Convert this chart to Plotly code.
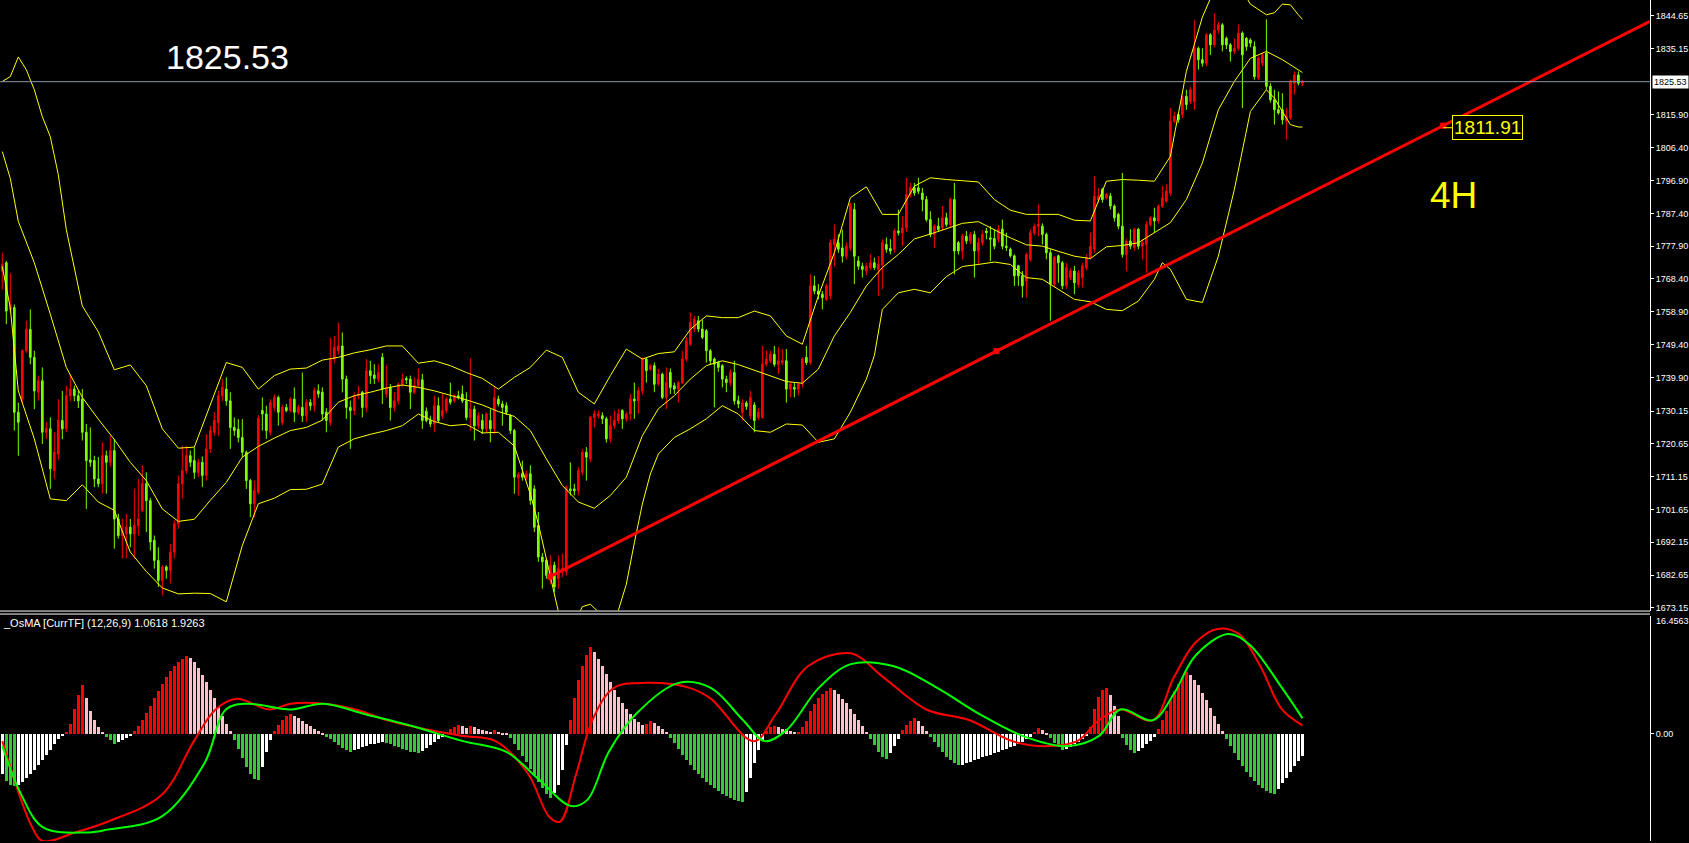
import plotly.graph_objects as go

# ---------------- price data (4H candles, bar index 0..325) ----------------
opens = [
 1770.7,1773.1,1759.5,1760.1,1729.8,1733.6,1747.6,1753.8,1745.7,1735.6,
 1738.9,1724.0,1725.0,1712.9,1717.7,1727.4,1725.0,1734.6,1736.5,1734.6,
 1733.6,1724.0,1716.0,1715.8,1710.5,1709.1,1717.2,1715.3,1718.7,1698.9,
 1694.1,1694.6,1696.5,1694.6,1697.0,1701.4,1709.1,1704.2,1692.7,1686.9,
 1681.1,1685.0,1684.0,1689.3,1697.5,1709.1,1712.9,1717.2,1715.8,1712.4,
 1715.3,1711.5,1719.2,1724.0,1726.9,1734.6,1736.5,1733.1,1725.4,1724.9,
 1722.5,1718.2,1710.0,1703.3,1706.7,1730.3,1729.3,1724.0,1731.2,1734.1,
 1726.9,1731.2,1730.3,1733.6,1729.8,1731.2,1728.8,1732.6,1731.7,1736.0,
 1735.6,1729.8,1726.9,1745.2,1747.6,1749.0,1739.4,1731.2,1730.3,1734.6,
 1735.6,1731.2,1741.8,1740.6,1739.4,1745.7,1735.1,1737.0,1731.2,1733.1,
 1737.9,1739.6,1739.4,1735.6,1737.5,1739.2,1730.1,1727.4,1726.4,1731.7,
 1728.8,1730.3,1733.6,1733.1,1734.6,1735.1,1733.1,1728.3,1730.7,1725.9,
 1727.4,1725.0,1727.4,1725.0,1733.6,1732.2,1731.7,1728.8,1724.5,1710.8,
 1712.0,1711.0,1712.0,1707.6,1697.0,1687.9,1686.9,1681.2,1685.5,1681.6,
 1683.6,1683.6,1707.6,1707.6,1707.1,1712.4,1718.2,1716.3,1728.3,1728.8,
 1728.8,1727.9,1722.1,1725.9,1727.4,1730.3,1727.9,1729.3,1733.6,1733.1,
 1736.0,1745.2,1742.3,1743.3,1738.0,1740.8,1734.1,1741.3,1737.5,1736.5,
 1738.4,1745.2,1749.5,1753.9,1756.3,1753.9,1753.4,1747.6,1745.2,1744.2,
 1743.3,1739.4,1738.4,1741.3,1733.1,1729.8,1732.5,1728.8,1731.9,1728.3,
 1728.3,1743.7,1744.7,1746.6,1743.7,1744.2,1744.7,1736.5,1737.0,1736.5,
 1738.0,1745.7,1744.2,1766.4,1764.9,1764.0,1762.5,1763.5,1778.4,1778.9,
 1777.4,1775.0,1777.4,1788.5,1773.6,1772.1,1770.7,1771.7,1773.1,1771.2,
 1772.6,1778.4,1777.2,1777.0,1782.3,1781.8,1783.2,1792.9,1794.8,1794.8,
 1793.3,1791.4,1785.6,1781.3,1783.7,1783.2,1786.1,1784.2,1791.4,1778.9,
 1776.5,1780.8,1779.4,1781.3,1776.5,1778.9,1782.3,1780.3,1780.1,1779.9,
 1782.8,1777.9,1777.0,1775.1,1772.2,1769.3,1767.8,1774.1,1781.8,1783.7,
 1783.7,1781.3,1776.0,1766.9,1775.1,1773.1,1766.4,1768.8,1770.7,1766.9,
 1768.8,1771.7,1774.6,1777.0,1791.4,1794.3,1791.9,1792.4,1789.5,1787.1,
 1783.7,1775.5,1779.4,1777.5,1782.8,1777.9,1778.4,1784.2,1786.1,1785.2,
 1789.5,1790.9,1793.3,1814.1,1816.0,1816.0,1821.3,1819.8,1819.8,1835.2,
 1831.9,1830.9,1839.1,1836.2,1840.5,1842.0,1838.1,1836.2,1834.3,1835.2,
 1839.6,1838.1,1837.6,1835.7,1826.6,1830.9,1833.8,1824.2,1820.3,1817.4,
 1817.4,1814.1,1815.0,1825.1,1827.5,1825.1]
highs = [
 1776.0,1773.6,1770.0,1761.0,1732.6,1748.0,1756.3,1759.6,1747.6,1740.4,
 1742.8,1726.9,1728.3,1724.0,1733.6,1736.0,1737.5,1740.8,1737.5,1736.0,
 1736.5,1726.4,1725.4,1717.2,1716.8,1721.1,1718.7,1723.0,1722.1,1700.4,
 1698.9,1700.4,1698.9,1707.6,1710.5,1714.4,1712.4,1705.0,1694.1,1690.7,
 1685.5,1685.5,1691.7,1698.5,1711.5,1720.1,1720.1,1718.7,1719.6,1716.3,
 1717.0,1723.5,1725.9,1729.8,1736.0,1739.4,1739.9,1735.6,1728.3,1727.8,
 1727.8,1718.7,1710.5,1710.0,1729.0,1734.1,1731.7,1733.6,1735.0,1734.6,
 1732.0,1732.2,1734.1,1737.0,1732.0,1741.3,1733.6,1733.6,1737.0,1737.9,
 1737.0,1731.0,1751.4,1751.9,1755.8,1752.9,1740.4,1733.2,1735.6,1737.5,
 1736.0,1745.2,1744.7,1743.7,1743.7,1746.9,1743.3,1738.0,1735.6,1738.4,
 1740.9,1740.2,1740.4,1739.9,1742.5,1740.9,1731.2,1728.8,1734.6,1734.1,
 1735.1,1734.1,1738.4,1735.1,1736.0,1737.5,1735.6,1745.4,1731.7,1729.8,
 1729.3,1729.8,1730.7,1737.0,1734.6,1733.1,1732.7,1729.3,1725.0,1712.4,
 1715.8,1712.9,1714.4,1708.6,1700.9,1689.0,1687.5,1688.4,1686.5,1688.4,
 1688.9,1708.6,1715.3,1709.1,1713.9,1719.2,1719.7,1728.8,1730.3,1730.3,
 1729.8,1728.5,1728.8,1730.3,1730.7,1730.7,1730.0,1735.1,1738.4,1737.0,
 1745.7,1745.7,1743.7,1744.2,1742.3,1741.3,1742.8,1742.5,1738.4,1738.9,
 1747.6,1751.5,1758.7,1757.7,1757.7,1756.7,1753.9,1748.1,1745.7,1744.7,
 1743.7,1740.4,1742.3,1744.7,1734.6,1733.6,1733.1,1736.0,1732.7,1731.0,
 1749.0,1747.6,1747.6,1749.0,1748.6,1748.1,1748.1,1738.4,1738.4,1738.4,
 1745.7,1749.0,1769.7,1769.3,1766.9,1764.9,1767.0,1779.9,1784.2,1781.3,
 1782.7,1779.0,1790.5,1790.4,1775.0,1773.1,1773.0,1775.5,1774.6,1775.0,
 1779.9,1780.4,1779.9,1783.0,1788.5,1786.6,1797.7,1796.2,1796.2,1797.7,
 1794.8,1792.4,1788.0,1784.2,1786.1,1789.5,1787.6,1791.9,1796.2,1779.4,
 1781.5,1782.3,1782.0,1782.3,1780.4,1782.5,1783.2,1783.7,1782.8,1784.0,
 1785.6,1781.8,1777.5,1775.5,1772.5,1770.7,1776.0,1782.8,1784.5,1790.0,
 1784.5,1781.8,1777.0,1775.0,1775.5,1773.6,1773.1,1771.5,1772.2,1771.0,
 1773.1,1775.5,1781.8,1798.2,1794.8,1794.8,1793.3,1793.3,1790.0,1787.6,
 1799.1,1780.0,1782.8,1783.2,1783.2,1779.9,1785.2,1786.6,1789.0,1790.0,
 1795.3,1795.8,1817.9,1816.9,1816.5,1821.8,1823.2,1824.0,1843.4,1835.7,
 1835.2,1839.6,1839.6,1845.3,1842.9,1842.5,1838.6,1836.7,1838.1,1842.0,
 1840.1,1838.5,1838.1,1837.2,1832.8,1833.8,1843.6,1825.1,1823.2,1822.7,
 1822.2,1817.9,1826.1,1828.5,1828.5,1826.1]
lows = [
 1765.4,1755.3,1758.5,1724.5,1717.2,1732.6,1747.0,1743.7,1730.7,1733.1,
 1720.6,1722.0,1707.6,1710.5,1716.0,1722.0,1724.0,1733.0,1733.0,1731.0,
 1721.6,1701.8,1714.0,1708.1,1708.1,1706.2,1706.2,1714.0,1690.3,1693.2,
 1687.4,1687.4,1690.7,1687.4,1694.1,1700.9,1695.1,1689.8,1684.5,1679.2,
 1676.8,1681.6,1680.2,1687.4,1696.0,1704.7,1712.0,1714.0,1710.5,1711.0,
 1708.1,1710.0,1718.0,1723.0,1723.0,1733.0,1731.7,1719.2,1723.0,1721.1,
 1716.8,1707.6,1699.4,1699.4,1706.0,1724.5,1722.1,1723.0,1730.0,1725.9,
 1726.0,1729.8,1729.8,1727.0,1729.0,1727.0,1726.9,1730.3,1730.0,1734.0,
 1727.4,1724.0,1725.9,1744.0,1746.5,1735.6,1727.9,1719.2,1729.0,1733.5,
 1728.3,1729.8,1738.0,1738.0,1738.5,1732.2,1734.0,1727.4,1730.0,1732.0,
 1737.0,1738.0,1730.7,1735.1,1737.0,1725.0,1726.9,1725.5,1724.0,1726.9,
 1728.0,1729.5,1732.0,1732.5,1733.5,1732.5,1727.5,1724.5,1721.6,1725.0,
 1723.5,1724.0,1721.1,1723.5,1731.5,1725.9,1729.0,1723.5,1706.2,1705.7,
 1710.0,1710.0,1703.0,1695.1,1686.5,1678.7,1681.6,1680.0,1677.8,1678.7,
 1682.0,1682.5,1705.7,1705.7,1705.7,1711.5,1710.0,1715.3,1725.4,1728.0,
 1726.4,1721.0,1721.1,1725.0,1726.5,1725.0,1727.0,1727.4,1727.9,1729.3,
 1735.0,1738.4,1741.8,1735.6,1737.5,1733.6,1730.7,1735.1,1735.1,1732.6,
 1738.0,1744.5,1749.0,1753.0,1753.0,1751.0,1744.2,1743.5,1731.2,1741.5,
 1737.0,1735.6,1737.5,1732.0,1731.0,1727.4,1730.5,1727.9,1724.0,1727.5,
 1727.9,1743.0,1744.0,1743.0,1740.8,1743.5,1732.6,1734.1,1734.1,1734.6,
 1737.0,1743.5,1743.5,1764.0,1762.5,1759.6,1762.0,1762.5,1772.1,1776.0,
 1773.1,1774.0,1776.5,1766.9,1771.0,1768.8,1769.5,1771.0,1771.0,1763.5,
 1765.4,1776.0,1775.5,1776.0,1781.0,1777.9,1782.0,1792.0,1792.5,1793.0,
 1788.0,1785.0,1780.5,1777.4,1782.0,1782.5,1783.5,1783.5,1769.7,1775.5,
 1774.1,1778.5,1778.5,1768.8,1772.6,1778.0,1779.9,1773.6,1777.0,1779.0,
 1777.0,1776.5,1774.6,1766.4,1766.4,1763.0,1763.0,1773.5,1781.0,1780.8,
 1778.4,1774.1,1756.3,1766.0,1767.3,1765.4,1765.5,1768.0,1764.0,1766.0,
 1765.9,1771.0,1774.0,1776.0,1790.5,1790.5,1791.4,1788.5,1785.0,1782.8,
 1774.6,1770.7,1777.0,1776.5,1777.0,1774.1,1770.2,1783.5,1781.8,1784.5,
 1789.0,1790.5,1792.5,1813.5,1813.6,1815.0,1817.4,1819.0,1817.4,1829.0,
 1829.9,1830.0,1833.3,1835.5,1839.5,1834.3,1835.0,1831.4,1833.5,1834.5,
 1817.9,1834.5,1835.5,1826.1,1826.0,1830.0,1823.2,1819.5,1813.1,1816.0,
 1813.1,1808.8,1814.5,1821.8,1824.5,1824.2]
closes = [
 1772.6,1759.1,1761.0,1729.8,1726.9,1747.6,1753.8,1745.7,1736.0,1738.9,
 1724.0,1725.1,1713.4,1718.2,1727.4,1725.0,1734.6,1736.5,1734.6,1733.1,
 1724.0,1715.8,1715.3,1710.5,1709.1,1717.2,1715.3,1718.7,1698.9,1694.1,
 1695.6,1696.5,1694.6,1697.0,1698.9,1709.1,1704.2,1692.2,1686.9,1681.1,
 1685.0,1684.0,1689.3,1697.5,1709.1,1712.9,1717.2,1715.3,1712.4,1715.3,
 1711.5,1719.2,1724.5,1727.4,1734.6,1737.0,1733.1,1725.4,1724.5,1722.5,
 1718.2,1710.0,1703.3,1707.1,1728.0,1729.3,1724.5,1732.6,1734.1,1729.8,
 1731.2,1730.3,1733.6,1729.8,1731.2,1728.8,1732.6,1731.7,1736.0,1735.1,
 1729.3,1727.4,1745.2,1748.6,1749.0,1739.4,1731.2,1730.3,1734.6,1735.1,
 1731.2,1741.8,1740.4,1739.6,1741.3,1736.5,1737.0,1731.2,1733.1,1737.9,
 1739.4,1739.2,1735.6,1737.5,1739.2,1727.4,1727.4,1726.4,1731.7,1727.4,
 1730.3,1733.6,1732.7,1734.6,1734.1,1733.1,1728.3,1730.7,1725.9,1728.8,
 1725.0,1729.3,1725.0,1734.1,1732.2,1731.2,1729.8,1724.5,1711.0,1711.8,
 1711.0,1712.0,1704.3,1696.5,1687.9,1686.5,1682.6,1685.5,1679.2,1684.5,
 1684.5,1708.1,1707.1,1707.1,1712.9,1718.2,1716.8,1728.3,1729.3,1729.3,
 1727.9,1722.1,1725.9,1727.4,1729.3,1727.9,1729.3,1733.6,1733.1,1736.0,
 1745.2,1741.8,1743.3,1737.9,1740.8,1734.1,1738.4,1737.0,1736.5,1738.4,
 1745.2,1750.5,1755.8,1756.7,1753.9,1751.5,1747.6,1744.7,1743.7,1742.8,
 1739.4,1738.4,1741.3,1733.1,1732.2,1732.5,1731.5,1734.1,1727.4,1729.8,
 1743.7,1745.2,1746.6,1743.7,1744.7,1744.7,1736.5,1738.0,1736.5,1738.0,
 1745.2,1744.2,1766.4,1764.9,1764.0,1763.0,1766.4,1778.9,1779.9,1777.0,
 1775.0,1777.9,1790.0,1775.0,1772.1,1771.2,1772.1,1773.1,1771.7,1772.6,
 1778.9,1777.0,1776.5,1782.3,1781.8,1783.2,1792.9,1794.8,1793.3,1793.8,
 1791.4,1785.6,1781.3,1783.7,1782.7,1786.1,1784.2,1791.4,1776.5,1776.5,
 1780.8,1779.4,1781.3,1776.5,1778.9,1781.3,1781.8,1779.9,1777.9,1782.8,
 1777.9,1777.5,1775.1,1769.3,1769.3,1766.4,1775.5,1781.8,1783.7,1784.2,
 1781.3,1776.0,1766.9,1774.6,1773.1,1766.4,1771.7,1770.7,1767.3,1770.2,
 1772.2,1774.6,1777.9,1792.4,1792.4,1791.4,1792.9,1789.5,1786.1,1783.7,
 1775.5,1779.4,1777.9,1782.8,1777.9,1778.9,1784.2,1786.1,1785.2,1789.5,
 1791.9,1793.8,1814.1,1815.5,1814.5,1820.8,1818.9,1823.2,1835.2,1831.9,
 1830.9,1839.1,1836.2,1840.5,1842.0,1836.2,1836.2,1834.3,1835.2,1839.6,
 1833.3,1835.7,1836.7,1827.0,1832.4,1833.3,1824.2,1820.3,1817.4,1816.5,
 1814.5,1815.5,1825.6,1827.5,1825.1,1825.5]
bars = list(range(len(closes)))

# ---------------- Bollinger bands ----------------
bb_up_x = [0,2,4,6,8,10,12,14,16,20,24,28,32,36,40,44,48,52,56,60,64,68,72,76,80,84,88,92,96,100,
           104,108,112,116,120,124,128,132,136,140,144,148,152,156,160,164,168,172,176,180,184,188,
           192,196,200,204,208,212,216,220,224,228,232,236,240,244,248,252,256,260,264,268,272,276,
           280,284,288,292,296,300,304,308,312,316,318,320,322,324,325]
bb_up = [1825.6,1827.0,1832.7,1829.0,1823.2,1815.4,1809.6,1798.6,1782.7,1760.6,1753.1,1742.1,1743.5,
         1737.5,1725.0,1719.4,1719.7,1731.7,1744.2,1742.8,1736.5,1740.4,1742.3,1742.6,1744.9,1745.7,
         1747.0,1747.9,1749.0,1749.0,1744.0,1744.7,1743.3,1741.3,1739.6,1736.5,1739.9,1742.8,1747.8,
         1745.7,1735.6,1732.2,1740.4,1748.1,1745.2,1746.8,1747.3,1753.8,1757.7,1757.2,1757.2,1759.1,
         1757.7,1751.9,1749.5,1763.5,1776.0,1791.9,1795.1,1787.1,1787.1,1795.3,1797.7,1797.2,1796.9,
         1796.5,1791.4,1788.3,1787.1,1787.1,1787.1,1785.4,1785.2,1796.7,1797.2,1797.0,1796.7,1803.9,
         1828.5,1844.2,1855.0,1856.0,1848.0,1844.9,1845.5,1848.0,1847.8,1844.9,1843.6]
bb_mid_x = [0,2,4,8,12,16,20,24,28,32,36,40,44,48,52,56,60,64,68,72,76,80,84,88,92,96,100,104,108,
            112,116,120,124,128,132,136,140,144,148,152,156,160,164,168,172,176,180,184,188,192,196,
            200,204,208,212,216,220,224,228,232,236,240,244,248,252,256,260,264,268,272,276,280,284,
            288,292,296,300,304,308,312,316,320,324,325]
bb_mid = [1805.3,1797.5,1785.1,1773.1,1758.2,1742.8,1734.1,1727.8,1721.9,1715.3,1710.0,1701.8,1698.2,
          1698.8,1704.3,1709.5,1716.8,1719.9,1722.3,1724.5,1725.4,1727.5,1732.7,1734.6,1735.6,1736.8,
          1737.7,1737.0,1736.0,1734.8,1733.4,1731.9,1730.0,1728.6,1724.5,1716.3,1708.6,1703.8,1702.0,
          1705.7,1711.0,1723.0,1730.8,1734.6,1739.4,1743.3,1744.7,1743.6,1742.0,1740.4,1738.7,1738.2,
          1742.3,1751.9,1758.7,1766.4,1771.7,1775.5,1780.0,1781.4,1782.9,1784.5,1785.0,1782.6,1780.3,
          1778.3,1777.9,1776.4,1775.0,1774.3,1777.7,1778.1,1778.9,1781.8,1784.7,1791.4,1802.0,1817.4,
          1825.6,1832.3,1834.3,1831.9,1828.8,1828.2]
bb_low_x = [0,2,4,8,12,16,20,24,28,32,36,40,44,48,52,56,60,64,68,72,76,80,84,88,92,96,100,104,108,
            112,116,120,124,128,132,134,136,138,140,143,145,147,149,151,153,154,156,158,160,162,164,
            168,172,176,180,184,188,192,196,200,204,208,212,216,218,220,224,228,232,236,240,244,248,
            252,256,260,264,268,272,276,280,284,288,290,292,296,300,304,308,312,316,318,320,322,324,325]
bb_low = [1772.0,1760.0,1736.0,1722.1,1704.7,1704.2,1708.8,1703.8,1701.4,1689.3,1683.7,1678.9,1677.2,
          1677.4,1677.3,1674.9,1691.2,1703.3,1704.9,1707.4,1707.5,1709.0,1719.7,1722.1,1723.4,1724.5,
          1725.9,1729.3,1727.1,1725.9,1726.3,1723.8,1724.0,1720.0,1706.1,1697.5,1687.4,1677.2,1667.0,
          1668.6,1673.5,1674.2,1672.0,1667.0,1668.0,1672.4,1680.0,1692.0,1703.2,1711.9,1717.7,1722.5,
          1725.0,1727.9,1731.7,1729.3,1724.5,1724.0,1726.4,1726.1,1721.1,1722.1,1729.8,1739.4,1746.2,
          1759.6,1764.4,1765.4,1764.4,1769.1,1772.0,1772.6,1773.3,1772.6,1768.8,1768.3,1765.4,1762.5,
          1761.8,1759.6,1759.2,1762.0,1768.3,1773.1,1771.2,1762.5,1761.6,1775.0,1794.3,1816.9,1823.2,
          1820.8,1816.9,1813.1,1812.4,1812.4]

# ---------------- OsMA sub-window ----------------
osma_hist = [
 -5.5,-6.5,-7.0,-7.2,-7.0,-6.6,-6.0,-5.5,-4.9,-4.3,-3.6,-2.9,-2.2,-1.4,-0.6,
 -0.2,0.3,1.5,3.5,5.5,6.9,5.0,3.2,2.0,1.0,0.4,-0.3,-0.8,
 -1.3,-1.1,-0.8,-0.5,-0.2,
 0.5,1.2,2.0,3.0,4.0,5.0,6.0,7.0,8.0,8.8,9.5,10.0,10.5,10.9,
 10.6,10.0,9.2,8.3,7.3,6.2,5.0,3.8,2.6,1.5,0.5,
 -0.8,-2.0,-3.3,-4.5,-5.5,-6.2,-6.4,-4.5,-2.5,-0.8,
 0.5,1.3,2.0,2.5,2.8,2.6,2.3,1.9,1.5,1.1,0.8,0.5,0.2,
 -0.3,-0.7,-1.1,-1.5,-1.9,-2.2,-2.4,-2.2,-2.0,-1.8,-1.6,-1.4,-1.3,-1.2,-1.0,
 -1.2,-1.4,-1.6,-1.8,-2.0,-2.2,-2.4,-2.5,-2.6,-2.3,-1.9,-1.5,-1.1,-0.7,-0.3,
 0.3,0.7,1.0,1.3,1.1,0.9,1.2,1.0,0.8,0.6,0.5,0.4,0.6,0.4,0.2,0.1,
 -0.5,-1.3,-2.2,-3.0,-3.9,-4.8,-5.7,-6.6,-7.5,-8.3,-8.8,-8.2,-7.0,-5.0,-1.5,
 2.0,5.0,7.5,9.5,11.0,12.1,11.5,10.5,9.5,8.4,7.3,6.2,5.2,4.3,3.5,2.8,2.2,1.7,1.3,
 1.5,1.8,1.6,1.2,0.8,0.3,
 -0.5,-1.2,-2.0,-2.8,-3.5,-4.2,-4.9,-5.5,-6.1,-6.6,-7.1,-7.5,-7.9,-8.3,-8.6,-8.9,-9.1,-9.3,-9.4,
 -8.0,-6.0,-4.0,-2.2,-0.8,
 0.5,1.0,1.2,1.0,0.8,0.7,0.5,0.3,0.4,
 1.0,1.8,3.2,4.2,5.0,5.6,6.1,6.5,6.2,5.6,4.9,4.3,3.6,2.8,2.0,1.2,0.4,
 -0.6,-1.5,-2.4,-3.1,-3.4,-2.6,-1.6,-0.6,
 0.6,1.3,1.9,2.3,1.9,1.2,0.5,
 -0.4,-1.1,-1.8,-2.5,-3.1,-3.6,-4.0,-4.3,
 -4.2,-4.0,-3.8,-3.6,-3.4,-3.2,-3.0,-2.8,-2.6,-2.4,-2.2,-2.0,-1.8,-1.6,-1.3,-1.0,-0.6,-0.3,
 0.4,0.9,0.6,0.2,
 -0.5,-1.2,-1.8,-2.2,-2.0,-1.7,-1.4,-1.0,-0.6,-0.2,
 1.0,3.5,5.2,6.2,6.5,5.5,4.0,2.5,
 -0.5,-1.5,-2.2,-2.6,-2.3,-1.9,-1.4,-0.9,-0.4,
 0.8,2.0,3.3,4.8,6.0,7.0,8.0,8.7,8.3,7.6,6.8,5.8,4.8,3.7,2.6,1.5,0.5,
 -0.6,-1.6,-2.6,-3.5,-4.4,-5.2,-5.9,-6.5,-7.0,-7.4,-7.8,-8.1,-8.3,
 -7.6,-6.8,-6.0,-5.2,-4.4,-3.7,-3.0]
macd_x = [0,7.5,10.2,18.2,26.3,39.8,47.9,53.3,58.6,66.7,72.1,80.2,88.3,96.3,107.1,115.2,123.3,131.4,
          136.7,139.4,143.5,147.5,152.9,161.0,171.8,177.1,187.9,193.3,201.4,212.1,220.2,231.0,241.8,
          252.5,260.6,268.7,274.1,279.5,287.6,292.9,298.3,303.7,309.1,314.5,319.9,325]
macd_v = [-1.0,-13.0,-14.9,-13.7,-12.2,-8.5,-1.0,3.4,4.9,3.4,4.2,4.2,3.4,1.9,0.5,-0.3,-1.0,-5.5,-11.5,
          -12.2,-5.5,1.9,6.4,7.1,6.4,4.9,-1.0,2.7,9.4,11.2,7.9,3.4,1.9,-1.0,-1.7,-1.0,1.9,3.4,1.9,7.9,
          12.7,14.6,13.9,9.4,3.4,1.2]
sig_x = [0,4.8,10.2,20.9,26.3,39.8,50.6,55.9,61.3,72.1,80.2,91.0,101.7,115.2,126.0,134.1,142.1,146.2,
         151.6,158.3,169.1,177.1,185.2,190.6,196.0,204.1,212.1,222.9,233.7,244.5,255.2,266.0,274.1,
         279.5,287.6,292.9,298.3,306.4,311.8,319.9,325]
sig_v = [-1.7,-8.5,-13.0,-13.7,-13.3,-11.5,-4.0,3.4,4.2,3.4,4.2,2.7,1.2,-1.0,-2.5,-6.3,-10.0,-9.2,-2.5,
         2.7,7.1,6.4,1.9,-1.0,0.5,6.4,9.7,9.4,6.4,2.7,-0.3,-1.7,-0.3,3.4,1.9,5.6,10.9,13.9,12.4,6.4,2.2]

# ---------------- annotation data ----------------
current_price = 1825.53
trend_x = [136.9, 360.2]
trend_y = [1682.2, 1812.8]
trend_label = "1811.91"
ymin_main, ymax_main = 1672.37, 1849.19
ymin_osc, ymax_osc = -14.88, 16.4563
xmin, xmax = -0.575, 411.9
main_ticks = [1844.65, 1835.15, 1815.90, 1806.40, 1796.90, 1787.40, 1777.90, 1768.40, 1758.90,
              1749.40, 1739.90, 1730.15, 1720.65, 1711.15, 1701.65, 1692.15, 1682.65, 1673.15]

RED = "#FF0000"
LIME = "#7FFF00"
YEL = "#FFFF00"

fig = go.Figure()
fig.add_trace(go.Candlestick(
    x=bars, open=opens, high=highs, low=lows, close=closes,
    increasing=dict(line=dict(color=RED, width=1), fillcolor=RED),
    decreasing=dict(line=dict(color=LIME, width=1), fillcolor=LIME),
    whiskerwidth=0, showlegend=False, xaxis="x", yaxis="y"))
for bx, by in ((bb_up_x, bb_up), (bb_mid_x, bb_mid), (bb_low_x, bb_low)):
    fig.add_trace(go.Scatter(x=bx, y=by, mode="lines", line=dict(color=YEL, width=1),
                             showlegend=False, hoverinfo="skip", xaxis="x", yaxis="y"))

# trendline ray
slope = (trend_y[1] - trend_y[0]) / (trend_x[1] - trend_x[0])
ray_x = [trend_x[0], xmax]
ray_y = [trend_y[0], trend_y[0] + slope * (xmax - trend_x[0])]
fig.add_trace(go.Scatter(x=ray_x, y=ray_y, mode="lines", line=dict(color=RED, width=3),
                         showlegend=False, hoverinfo="skip", xaxis="x", yaxis="y"))
mid_x = (trend_x[0] + trend_x[1]) / 2
fig.add_trace(go.Scatter(x=[trend_x[0], mid_x, trend_x[1]],
                         y=[trend_y[0], trend_y[0] + slope * (mid_x - trend_x[0]), trend_y[1]],
                         mode="markers", marker=dict(symbol="square", size=6, color=RED),
                         showlegend=False, hoverinfo="skip", xaxis="x", yaxis="y"))

# OsMA histogram colours: rising/falling above and below zero
hist_colors = []
for k, v in enumerate(osma_hist):
    prev = osma_hist[k - 1] if k > 0 else v
    if v >= 0:
        hist_colors.append(RED if v >= prev else "#FFC0CB")
    else:
        hist_colors.append("#32CD32" if v < prev else "#FFFFFF")
fig.add_trace(go.Bar(x=bars, y=osma_hist, marker=dict(color=hist_colors, line=dict(width=0)),
                     width=0.7, showlegend=False, hoverinfo="skip", xaxis="x2", yaxis="y2"))
fig.add_trace(go.Scatter(x=macd_x, y=macd_v, mode="lines", line=dict(color=RED, width=2, shape="spline"),
                         showlegend=False, hoverinfo="skip", xaxis="x2", yaxis="y2"))
fig.add_trace(go.Scatter(x=sig_x, y=sig_v, mode="lines", line=dict(color="#00FF00", width=2, shape="spline"),
                         showlegend=False, hoverinfo="skip", xaxis="x2", yaxis="y2"))

W, H = 1689, 843
main_bottom_px = 612
osc_top_px = 617
axis_font = dict(family="Liberation Sans, Arial, sans-serif", size=9, color="#FFFFFF")

fig.update_layout(
    width=W, height=H, paper_bgcolor="#000000", plot_bgcolor="#000000",
    margin=dict(l=0, r=39, t=0, b=0), showlegend=False, boxgap=0.4, bargap=0,
    xaxis=dict(domain=[0, 1], range=[xmin, xmax], visible=False, rangeslider=dict(visible=False),
               anchor="y"),
    xaxis2=dict(domain=[0, 1], range=[xmin, xmax], visible=False, anchor="y2", matches="x"),
    yaxis=dict(domain=[1 - main_bottom_px / H, 1], range=[ymin_main, ymax_main], side="right",
               anchor="x", showgrid=False, zeroline=False, showline=True, linecolor="#FFFFFF",
               linewidth=1, ticks="outside", ticklen=3, tickcolor="#FFFFFF",
               tickvals=main_ticks, ticktext=["%.2f" % v for v in main_ticks], tickfont=axis_font),
    yaxis2=dict(domain=[0, 1 - osc_top_px / H], range=[ymin_osc, ymax_osc], side="right",
                anchor="x2", showgrid=False, zeroline=False, showline=True, linecolor="#FFFFFF",
                linewidth=1, ticks="outside", ticklen=3, tickcolor="#FFFFFF",
                tickvals=[0], ticktext=["0.00"], tickfont=axis_font),
)

shapes = []
shapes.append(dict(type="line", xref="paper", x0=0, x1=1, yref="y", y0=current_price, y1=current_price,
                   line=dict(color="#8A95A5", width=1)))
for ypx in (612.5, 615.5):
    shapes.append(dict(type="line", xref="paper", x0=0, x1=1, yref="paper",
                       y0=1 - ypx / H, y1=1 - ypx / H, line=dict(color="#FFFFFF", width=1)))
shapes.append(dict(type="line", xref="x", yref="y", x0=trend_x[1], x1=trend_x[1] + 2.3,
                   y0=trend_y[1] - 0.6, y1=trend_y[1] - 0.6, line=dict(color=YEL, width=1)))
fig.update_layout(shapes=shapes)

ann = []
ann.append(dict(text="1825.53", xref="paper", yref="paper", x=227 / 1650, y=1 - 57 / H,
                xanchor="center", yanchor="middle", showarrow=False,
                font=dict(family="Liberation Sans, Arial", size=34, color="#FFFFFF")))
ann.append(dict(text="4H", xref="paper", yref="paper", x=1453 / 1650, y=1 - 196 / H,
                xanchor="center", yanchor="middle", showarrow=False,
                font=dict(family="Liberation Sans, Arial", size=37, color=YEL)))
ann.append(dict(text=trend_label, xref="x", yref="y", x=trend_x[1] + 2.3, y=trend_y[1] - 0.6,
                xanchor="left", yanchor="middle", showarrow=False, bordercolor=YEL, borderwidth=1,
                borderpad=1, bgcolor="#000000",
                font=dict(family="Liberation Sans, Arial", size=19, color=YEL)))
ann.append(dict(text="%.2f" % current_price, xref="paper", yref="y", x=1, y=current_price,
                xanchor="left", yanchor="middle", xshift=2, showarrow=False, bgcolor="#FFFFFF",
                borderpad=1, font=dict(family="Liberation Sans, Arial", size=9, color="#000000")))
ann.append(dict(text="16.4563", xref="paper", yref="paper", x=1, y=1 - 622 / H, xanchor="left",
                yanchor="middle", xshift=4, showarrow=False, font=axis_font))
ann.append(dict(text="_OsMA [CurrTF] (12,26,9) 1.0618 1.9263", xref="paper", yref="paper",
                x=1 / 1650, y=1 - 624 / H, xanchor="left", yanchor="middle", showarrow=False,
                font=dict(family="Liberation Sans, Arial", size=11, color="#FFFFFF")))
fig.update_layout(annotations=ann)

fig.write_html("out.html", include_plotlyjs=True, config={"displayModeBar": False},
               post_script="document.body.style.margin='0';document.body.style.overflow='hidden';")
